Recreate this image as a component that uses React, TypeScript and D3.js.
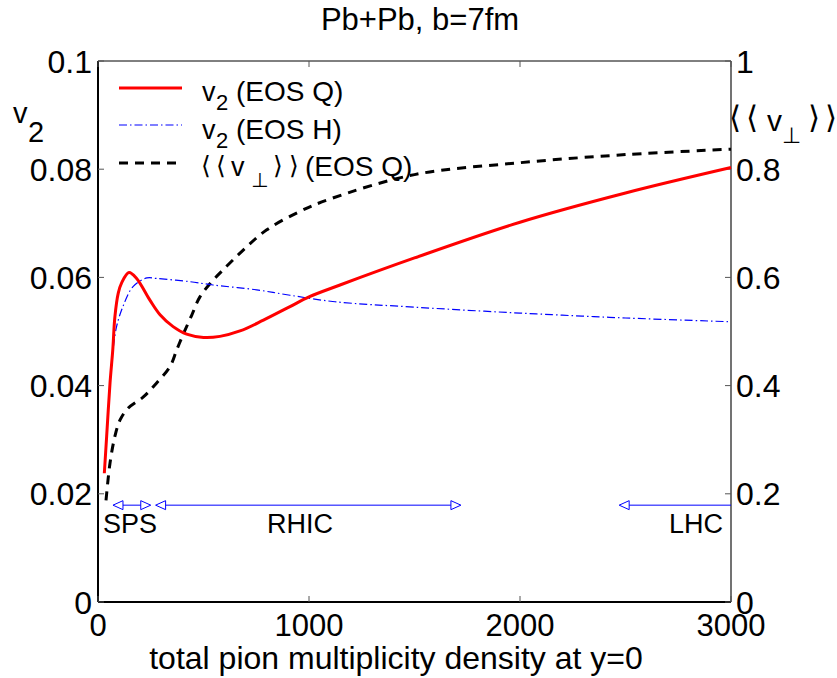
import React from "react";
import * as d3 from "d3";

// ---- data ----
const eosQx = [30, 41, 57, 70, 80, 96, 112, 147, 183, 246, 294, 356, 420, 500, 578, 673, 784, 910, 1000, 1147, 1500, 2000, 2500, 3000];
const eosQv2 = [0.0238, 0.0306, 0.0405, 0.0466, 0.0527, 0.0571, 0.059, 0.0609, 0.0598, 0.0558, 0.0531, 0.0509, 0.0495, 0.0489, 0.0491, 0.0501, 0.0521, 0.0546, 0.0564, 0.0586, 0.0636, 0.0702, 0.0756, 0.0803];

const eosHx = [73, 88, 118, 166, 232, 278, 436, 545, 752, 910, 1123, 1500, 2000, 2500, 3000];
const eosHv2 = [0.0472, 0.0509, 0.0546, 0.0583, 0.0599, 0.0598, 0.0592, 0.0586, 0.0577, 0.0567, 0.0555, 0.0545, 0.0534, 0.0525, 0.0518];

const vperpX = [38, 57, 80, 104, 142, 215, 278, 341, 373, 403, 444, 483, 539, 593, 687, 800, 957, 1100, 1500, 2000, 2500, 3000];
const vperpVal = [0.188, 0.257, 0.306, 0.336, 0.358, 0.379, 0.405, 0.435, 0.466, 0.494, 0.53, 0.564, 0.592, 0.614, 0.65, 0.688, 0.722, 0.745, 0.79, 0.812, 0.827, 0.837];

const xTicks = [0, 1000, 2000, 3000];
const leftTicks = [0, 0.02, 0.04, 0.06, 0.08, 0.1];
const leftTickLabels = ["0", "0.02", "0.04", "0.06", "0.08", "0.1"];
const rightTicks = [0, 0.2, 0.4, 0.6, 0.8, 1];
const rightTickLabels = ["0", "0.2", "0.4", "0.6", "0.8", "1"];

const experiments = ["SPS", "RHIC", "LHC"];
const rangeLo = [71, 273, 2470];
const rangeHi = [250, 1720, 3000];
const rangeLevel = 0.0179;

const FONT = "'Liberation Sans', Arial, Helvetica, sans-serif";
const SYM = "'DejaVu Sans', sans-serif";

export default function App() {
  const W = 837, H = 678;
  const L = 98, R = 731, T = 61, B = 602;
  const x = d3.scaleLinear().domain([0, 3000]).range([L, R]);
  const yL = d3.scaleLinear().domain([0, 0.1]).range([B, T]);
  const yR = d3.scaleLinear().domain([0, 1]).range([B, T]);

  const curve = d3.curveCatmullRom.alpha(0.5);
  const lineQ = d3.line<number>().x((_, i) => x(eosQx[i])).y((d) => yL(d)).curve(curve);
  const lineH = d3.line<number>().x((_, i) => x(eosHx[i])).y((d) => yL(d)).curve(curve);
  const lineV = d3.line<number>().x((_, i) => x(vperpX[i])).y((d) => yR(d)).curve(curve);

  const ay = yL(rangeLevel);
  const tri = (tipX: number, dir: number) =>
    `M${tipX},${ay} L${tipX + dir * 10},${ay - 4.5} L${tipX + dir * 10},${ay + 4.5} Z`;

  const labelAnchor = ["start", "middle", "end"];
  const labelX = [x(24), x(957), x(2962)];

  return (
    <svg width={W} height={H} style={{ position: "absolute", left: 0, top: 0, background: "#fff" }} fontFamily={FONT}>
      <rect width={W} height={H} fill="#fff" />
      {/* title */}
      <text x={420} y={30} fontSize={31} textAnchor="middle">Pb+Pb, b=7fm</text>

      {/* frame */}
      <line x1={L} y1={T} x2={R} y2={T} stroke="#000" strokeWidth={1} />
      <line x1={R} y1={T} x2={R} y2={B} stroke="#444" strokeWidth={1.5} />
      <line x1={L} y1={T} x2={L} y2={B} stroke="#000" strokeWidth={2} />
      <line x1={L} y1={B} x2={R} y2={B} stroke="#000" strokeWidth={2} />

      {/* ticks */}
      {xTicks.map((t) => (
        <g key={"xt" + t}>
          <line x1={x(t)} x2={x(t)} y1={B} y2={B - 6} stroke="#555" />
          <line x1={x(t)} x2={x(t)} y1={T} y2={T + 6} stroke="#555" />
          <text x={x(t)} y={636} fontSize={31} textAnchor="middle">{t}</text>
        </g>
      ))}
      {leftTicks.map((t, i) => (
        <g key={"lt" + t}>
          <line x1={L} x2={L + 6} y1={yL(t)} y2={yL(t)} stroke="#555" />
          <text x={92} y={yL(t) + 11.5} fontSize={32} textAnchor="end">{leftTickLabels[i]}</text>
        </g>
      ))}
      {rightTicks.map((t, i) => (
        <g key={"rt" + t}>
          <line x1={R} x2={R - 6} y1={yR(t)} y2={yR(t)} stroke="#555" />
          <text x={736} y={yR(t) + 11.5} fontSize={32} textAnchor="start">{rightTickLabels[i]}</text>
        </g>
      ))}

      {/* axis labels */}
      <text x={396} y={669} fontSize={32} textAnchor="middle">total pion multiplicity density at y=0</text>
      <text x={13} y={123} fontSize={29}>v</text>
      <text x={28} y={142} fontSize={29}>2</text>
      <g fontSize={30}>
        <text x={729} y={128} fontFamily={SYM} fontSize={31}>⟨</text>
        <text x={746} y={128} fontFamily={SYM} fontSize={31}>⟨</text>
        <text x={767} y={131}>v</text>
        <text x={782} y={143} fontFamily={SYM} fontSize={22}>⊥</text>
        <text x={808} y={128} fontFamily={SYM} fontSize={31}>⟩</text>
        <text x={825} y={128} fontFamily={SYM} fontSize={31}>⟩</text>
      </g>

      {/* curves */}
      <path d={lineV(vperpVal) || ""} fill="none" stroke="#000" strokeWidth={3} strokeDasharray="9,7" />
      <path d={lineH(eosHv2) || ""} fill="none" stroke="#0000ff" strokeWidth={1.2} strokeDasharray="8,3,1.5,3" />
      <path d={lineQ(eosQv2) || ""} fill="none" stroke="#ff0000" strokeWidth={3} />

      {/* experiment ranges */}
      {experiments.map((e, i) => {
        const x0 = x(rangeLo[i]);
        const x1 = x(rangeHi[i]);
        return (
          <g key={e}>
            <line x1={x0 + 10} x2={rangeHi[i] >= 3000 ? x1 : x1 - 10} y1={ay} y2={ay} stroke="#0000ff" strokeWidth={1} />
            <path d={tri(x0, 1)} fill="none" stroke="#0000ff" strokeWidth={1} />
            {rangeHi[i] < 3000 && <path d={tri(x1, -1)} fill="none" stroke="#0000ff" strokeWidth={1} />}
            <text x={labelX[i]} y={533} fontSize={27} textAnchor={labelAnchor[i] as any}>{e}</text>
          </g>
        );
      })}

      {/* legend */}
      <line x1={119} x2={182} y1={88} y2={88} stroke="#ff0000" strokeWidth={3} />
      <line x1={119} x2={182} y1={125} y2={125} stroke="#0000ff" strokeWidth={1.2} strokeDasharray="8,3,1.5,3" />
      <line x1={119} x2={182} y1={163} y2={163} stroke="#000" strokeWidth={3} strokeDasharray="9,7" />
      <text x={202} y={101} fontSize={27}>v</text>
      <text x={216} y={110} fontSize={22}>2</text>
      <text x={236} y={101} fontSize={28}>(EOS Q)</text>
      <text x={202} y={139} fontSize={27}>v</text>
      <text x={216} y={148} fontSize={22}>2</text>
      <text x={236} y={139} fontSize={28}>(EOS H)</text>
      <text x={201} y={174} fontFamily={SYM} fontSize={25}>⟨</text>
      <text x={216} y={174} fontFamily={SYM} fontSize={25}>⟨</text>
      <text x={231} y={176} fontSize={27}>v</text>
      <text x={251} y={187} fontFamily={SYM} fontSize={20}>⊥</text>
      <text x={273} y={174} fontFamily={SYM} fontSize={25}>⟩</text>
      <text x={289} y={174} fontFamily={SYM} fontSize={25}>⟩</text>
      <text x={305} y={176} fontSize={28}>(EOS Q)</text>
    </svg>
  );
}
